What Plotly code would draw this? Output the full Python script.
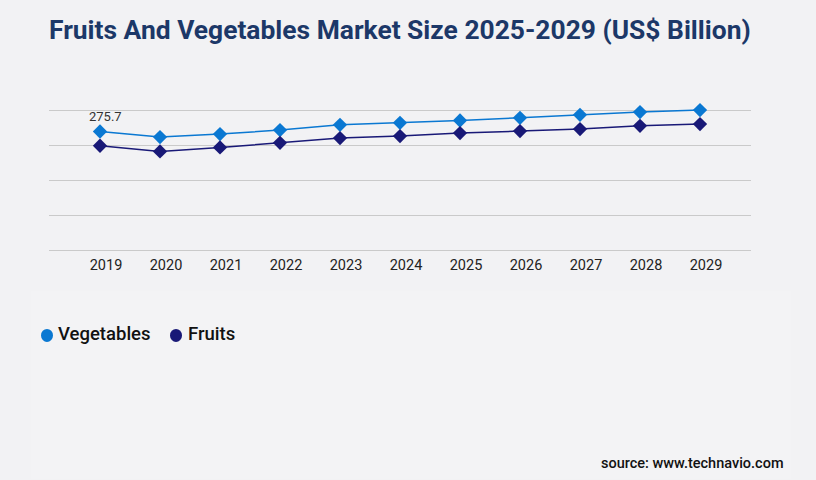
import plotly.graph_objects as go

years = ["2019", "2020", "2021", "2022", "2023", "2024", "2025", "2026", "2027", "2028", "2029"]
vegetables = [275.7, 262.7, 269.7, 279.0, 291.3, 295.9, 301.3, 307.5, 314.5, 320.8, 325.4]
fruits = [242.5, 229.2, 238.5, 249.4, 260.4, 265.0, 272.0, 276.6, 281.3, 288.9, 292.9]
series_names = ["Vegetables", "Fruits"]

VEG_C = "#0a78d2"
FRU_C = "#191977"
W, H = 816, 480
L, R, T, B = 49, 751, 108.8, 250.3


def py(ypix):
    return (B - ypix) / (B - T)


def px(xpix):
    return (xpix - L) / (R - L)


fig = go.Figure()
fig.add_trace(go.Scatter(x=years, y=vegetables, mode="lines+markers", name=series_names[0],
                         line=dict(color=VEG_C, width=1.5),
                         marker=dict(symbol="diamond", size=11, color=VEG_C),
                         showlegend=False, cliponaxis=False, hoverinfo="skip"))
fig.add_trace(go.Scatter(x=years, y=fruits, mode="lines+markers", name=series_names[1],
                         line=dict(color=FRU_C, width=1.5),
                         marker=dict(symbol="diamond", size=11, color=FRU_C),
                         showlegend=False, cliponaxis=False, hoverinfo="skip"))

fig.add_annotation(x=0, y=vegetables[0], xref="x", yref="y", text=str(vegetables[0]),
                   showarrow=False, xshift=5, yshift=15,
                   font=dict(family="Roboto", size=13, color="#333333"))

fig.add_annotation(xref="paper", yref="paper", x=px(400), y=py(30),
                   text="<b>Fruits And Vegetables Market Size 2025-2029 (US$ Billion)</b>",
                   showarrow=False, xanchor="center", yanchor="middle",
                   font=dict(family="Roboto", size=26.4, color="#1c3868"))
fig.add_annotation(xref="paper", yref="paper", x=px(786), y=py(465),
                   text="source: www.technavio.com", showarrow=False,
                   xanchor="right", yanchor="middle",
                   font=dict(family="Roboto", size=14.5, color="#111111", weight=500))

fig.add_shape(type="rect", xref="paper", yref="paper", layer="below",
              x0=px(31), x1=px(791), y0=py(480), y1=py(292),
              fillcolor="#f3f3f5", line=dict(width=0))

# legend (circle + label)
legend_items = [(series_names[0], VEG_C, 47, 58), (series_names[1], FRU_C, 176, 188)]
for name, col, cx, tx in legend_items:
    fig.add_shape(type="circle", xref="paper", yref="paper",
                  xsizemode="pixel", ysizemode="pixel",
                  xanchor=px(cx), yanchor=py(336), x0=-6, x1=6, y0=-6.5, y1=6.5,
                  fillcolor=col, line=dict(width=0))
    fig.add_annotation(xref="paper", yref="paper", x=px(tx), y=py(334.5),
                       text=name, showarrow=False, xanchor="left", yanchor="middle",
                       xshift=-2,
                       font=dict(family="Roboto", size=18.5, color="#111111", weight=500))

fig.update_layout(
    width=W, height=H,
    margin=dict(l=L, r=W - R, t=T, b=H - B, pad=0),
    paper_bgcolor="#f2f2f4", plot_bgcolor="rgba(0,0,0,0)",
    showlegend=False,
    xaxis=dict(type="category", range=[-0.85, 10.85], showgrid=False, zeroline=False,
               showline=False, ticks="", ticklabelshift=6, ticklabelstandoff=4,
               tickfont=dict(family="Roboto", size=14.5, color="#222222")),
    yaxis=dict(range=[0, 328], dtick=81.25, tick0=0, showticklabels=False,
               showgrid=True, gridcolor="#cacaca", gridwidth=1,
               zeroline=True, zerolinecolor="#cacaca", zerolinewidth=1, showline=False),
)

fig.write_html("out.html", config={"displayModeBar": False},
               post_script="document.body.style.margin='0';")
